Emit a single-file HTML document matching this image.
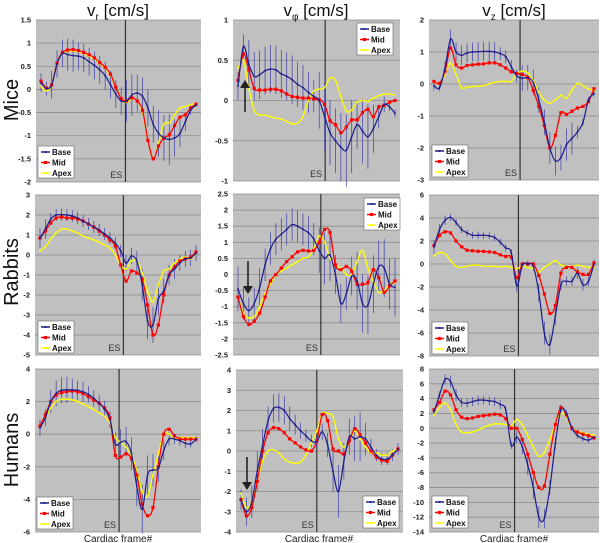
<!DOCTYPE html>
<html><head><meta charset="utf-8"><style>
html,body{margin:0;padding:0;background:#fff;}
svg{display:block;font-family:"Liberation Sans",sans-serif;}
</style></head><body>
<svg id="fig" width="600" height="543" viewBox="0 0 600 543"></svg>
<script>
const NS="http://www.w3.org/2000/svg";
const svg=document.getElementById('fig');
// ---- data (30 cardiac frames) ----
const frames=[0,1,2,3,4,5,6,7,8,9,10,11,12,13,14,15,16,17,18,19,20,21,22,23,24,25,26,27,28,29];
const seriesNames=["Base","Mid","Apex"];
const colTitles=["v","v","v"];
const colSubs=["r","φ","z"];
const rowTitles=["Mice","Rabbits","Humans"];
// Mice vr
const miceVrBase=[0.15,0.02,0.1,0.55,0.78,0.75,0.73,0.72,0.68,0.6,0.52,0.42,0.3,0.1,-0.1,-0.25,-0.25,-0.12,-0.08,-0.15,-0.4,-0.75,-0.95,-1.05,-1.08,-1.05,-0.95,-0.7,-0.45,-0.33];
const miceVrMid=[0.18,0.03,0.1,0.57,0.8,0.85,0.86,0.84,0.8,0.75,0.68,0.58,0.48,0.33,0.05,-0.2,-0.25,-0.18,-0.25,-0.45,-1.1,-1.5,-1.22,-1.05,-0.98,-0.78,-0.6,-0.55,-0.4,-0.32];
const miceVrApex=[0.07,-0.03,0.1,0.58,0.78,0.82,0.83,0.82,0.78,0.72,0.66,0.56,0.46,0.3,0.05,-0.2,-0.28,-0.2,-0.25,-0.5,-1.1,-1.5,-1.15,-0.75,-0.72,-0.55,-0.4,-0.37,-0.33,-0.3];
const miceVrSd=[0.2,0.15,0.3,0.3,0.3,0.35,0.35,0.3,0.3,0.3,0.3,0.3,0.3,0.3,0.3,0.3,0.45,0.45,0.4,0.4,0.4,0.4,0.5,0.5,0.55,0.4,0.3,0.2,0.1,0.05];
// Mice vphi
const miceVpBase=[0.18,0.67,0.45,0.3,0.32,0.37,0.39,0.38,0.33,0.3,0.26,0.2,0.16,0.1,0.05,0.0,-0.2,-0.4,-0.5,-0.58,-0.62,-0.45,-0.3,-0.38,-0.45,-0.35,-0.2,-0.05,-0.08,-0.16];
const miceVpMid=[0.25,0.58,0.38,0.15,0.13,0.13,0.14,0.14,0.12,0.08,0.05,0.04,0.03,0.03,0.02,0.01,-0.05,-0.25,-0.3,-0.4,-0.33,-0.24,-0.24,-0.15,-0.11,-0.2,-0.08,-0.06,-0.02,0.0];
const miceVpApex=[0.4,0.5,0.15,-0.12,-0.18,-0.18,-0.2,-0.22,-0.23,-0.26,-0.29,-0.28,-0.2,0.0,0.12,0.14,0.16,0.28,0.25,0.05,-0.13,-0.12,-0.02,0.0,-0.01,0.03,0.06,0.08,0.08,0.07];
const miceVpSd=[0.17,0.15,0.3,0.3,0.3,0.3,0.3,0.3,0.3,0.3,0.3,0.28,0.28,0.25,0.2,0.35,0.42,0.4,0.4,0.42,0.45,0.45,0.3,0.4,0.4,0.3,0.15,0.1,0.05,0.05];
// Mice vz
const miceVzBase=[-0.05,-0.12,0.5,1.4,1.0,0.9,0.97,1.0,1.01,1.02,1.02,1.0,0.95,0.85,0.55,0.25,0.18,0.2,0.05,-0.5,-1.2,-2.0,-2.4,-2.3,-1.9,-1.7,-1.5,-1.2,-0.5,-0.3];
const miceVzMid=[0.08,0.02,0.4,1.12,0.6,0.5,0.58,0.6,0.62,0.63,0.66,0.66,0.6,0.5,0.38,0.33,0.3,0.2,-0.2,-0.7,-1.3,-2.0,-1.6,-0.9,-0.95,-0.85,-0.75,-0.7,-0.55,-0.15];
const miceVzApex=[0.05,0.0,0.3,0.65,0.3,-0.12,-0.1,-0.08,-0.07,-0.05,0.0,0.05,0.08,0.08,0.08,0.32,0.4,0.35,0.1,-0.25,-0.5,-0.6,-0.5,-0.35,-0.45,-0.2,0.02,-0.05,-0.15,-0.2];
const miceVzSd=[0.15,0.1,0.2,0.3,0.3,0.3,0.3,0.3,0.3,0.3,0.3,0.3,0.2,0.2,0.2,0.2,0.4,0.4,0.4,0.4,0.4,0.5,0.45,0.4,0.5,0.5,0.2,0.1,0.1,0.1];
// Rabbits vr
const rabVrBase=[0.85,1.3,1.8,2.0,2.02,2.0,1.95,1.85,1.7,1.55,1.4,1.25,1.05,0.85,0.6,0.2,-0.4,-0.05,-0.3,-1.5,-3.3,-3.5,-2.2,-1.8,-1.0,-0.7,-0.4,-0.2,-0.15,0.1];
const rabVrMid=[0.85,1.2,1.6,1.85,1.9,1.85,1.85,1.8,1.7,1.55,1.4,1.2,1.0,0.75,0.45,-0.5,-1.3,-0.8,-0.9,-1.2,-2.5,-4.0,-3.5,-2.0,-1.0,-0.6,-0.3,-0.2,-0.1,0.15];
const rabVrApex=[0.2,0.4,0.8,1.1,1.3,1.3,1.2,1.1,0.95,0.85,0.75,0.65,0.5,0.35,0.0,-0.5,-0.7,-0.3,-0.3,-0.9,-1.8,-2.35,-1.5,-0.8,-0.7,-0.4,-0.2,-0.1,-0.2,0.1];
const rabVrSd=[0.5,0.5,0.3,0.3,0.3,0.3,0.3,0.3,0.3,0.3,0.3,0.3,0.3,0.3,0.3,0.3,0.4,0.4,0.5,0.8,0.9,0.9,0.8,0.6,0.5,0.5,0.4,0.4,0.4,0.4];
// Rabbits vphi
const rabVpBase=[-0.45,-0.9,-1.12,-0.9,-0.4,0.3,0.8,1.1,1.25,1.4,1.55,1.5,1.4,1.3,1.1,0.75,0.5,0.6,0.0,-0.9,-0.6,-0.05,-0.2,-0.9,-0.95,-0.3,0.25,0.2,-0.3,-0.4];
const rabVpMid=[-0.7,-1.3,-1.55,-1.45,-1.2,-0.7,-0.2,0.0,0.2,0.4,0.55,0.7,0.75,0.73,0.75,1.0,1.4,1.3,0.3,0.15,0.25,0.1,-0.3,-0.3,-0.25,0.15,-0.1,-0.55,-0.35,-0.2];
const rabVpApex=[-0.7,-1.2,-1.35,-1.3,-1.0,-0.6,-0.3,0.0,0.1,0.2,0.3,0.4,0.5,0.55,0.8,1.2,1.0,0.5,0.3,0.2,0.0,0.0,0.4,0.75,0.2,-0.2,-0.55,-0.5,-0.3,-0.25];
const rabVpSd=[0.7,0.5,0.4,0.5,0.6,0.5,0.5,0.5,0.5,0.5,0.5,0.5,0.5,0.5,0.5,0.7,0.8,0.8,0.6,0.6,0.5,0.6,0.9,0.9,0.9,0.9,0.8,0.9,0.8,0.9];
// Rabbits vz
const rabVzBase=[1.5,3.0,3.8,4.05,3.6,3.0,2.7,2.5,2.5,2.5,2.45,2.3,1.9,1.4,1.0,-1.9,-0.1,0.0,-0.2,-2.5,-6.0,-7.0,-4.5,-1.8,-1.5,-1.5,-0.8,-1.8,-1.5,0.0];
const rabVzMid=[1.6,2.5,2.8,2.7,2.0,1.5,1.2,1.15,1.1,1.1,1.05,1.0,0.8,0.65,0.6,-1.2,0.0,0.0,0.0,-1.0,-2.6,-4.3,-3.6,-0.8,-0.3,-0.3,-0.7,-0.9,-0.9,0.1];
const rabVzApex=[0.7,1.0,0.9,0.3,-0.2,-0.3,-0.2,-0.1,-0.1,-0.2,-0.2,-0.2,-0.25,-0.2,-0.3,-0.4,-0.2,-0.3,-0.4,-0.7,-0.3,0.0,0.3,-0.1,-0.2,-0.2,-0.1,-0.2,-0.3,-0.3];
const rabVzSd=[0.6,0.5,0.4,0.3,0.3,0.3,0.3,0.3,0.3,0.3,0.3,0.3,0.3,0.3,0.3,0.5,0.3,0.3,0.4,0.8,1.0,0.9,0.8,0.5,0.4,0.4,0.5,0.5,0.4,0.4];
// Humans vr
const humVrBase=[0.4,1.0,2.0,2.5,2.7,2.72,2.72,2.7,2.6,2.45,2.2,1.9,1.55,0.9,-0.6,-0.5,-0.45,-1.2,-3.2,-4.6,-2.5,-2.2,-2.1,-1.0,-0.3,-0.3,-0.4,-0.55,-0.6,-0.3];
const humVrMid=[0.5,1.2,2.0,2.4,2.55,2.62,2.65,2.6,2.5,2.3,2.1,1.9,1.6,1.0,-1.3,-1.4,-1.2,-1.5,-2.5,-4.3,-5.0,-4.5,-2.0,0.0,0.3,-0.1,-0.3,-0.3,-0.3,-0.3];
const humVrApex=[0.5,1.0,1.6,2.0,2.15,2.15,2.1,2.0,1.85,1.7,1.5,1.3,1.1,0.7,-0.2,-0.5,-0.8,-1.3,-2.2,-3.5,-3.8,-2.5,-1.2,0.0,0.0,-0.3,-0.2,-0.2,-0.2,-0.2];
const humVrSd=[0.5,0.5,0.7,0.8,0.8,0.8,0.7,0.6,0.6,0.5,0.5,0.5,0.5,0.5,0.7,0.8,0.9,1.0,1.2,1.5,1.2,1.0,0.8,0.6,0.4,0.3,0.3,0.3,0.2,0.2];
// Humans vphi
const humVpBase=[-2.4,-3.0,-2.5,-1.0,0.3,1.5,2.1,2.15,2.0,1.6,1.3,1.0,0.75,0.5,0.45,0.95,0.3,-1.0,-2.0,-0.5,0.7,0.6,0.7,0.6,0.2,-0.2,-0.4,-0.4,-0.2,0.1];
const humVpMid=[-2.4,-3.2,-2.8,-1.5,0.0,0.9,1.15,1.1,0.9,0.6,0.4,0.2,0.05,0.0,0.5,1.8,1.5,0.1,0.0,-0.15,0.5,1.1,0.8,0.4,0.0,-0.3,-0.45,-0.5,-0.2,0.1];
const humVpApex=[-2.1,-2.8,-2.5,-1.5,-0.5,0.0,0.05,-0.1,-0.4,-0.55,-0.6,-0.55,-0.2,0.4,1.0,1.85,1.85,1.7,0.6,0.2,0.5,1.0,0.6,0.2,-0.1,-0.1,-0.2,-0.2,0.0,0.1];
const humVpSd=[0.5,0.7,0.8,1.0,0.8,0.7,0.7,0.7,0.7,0.6,0.5,0.4,0.3,0.3,0.3,0.4,0.6,1.0,1.3,0.9,0.9,1.1,1.2,0.8,0.4,0.3,0.3,0.3,0.3,0.3];
// Humans vz
const humVzBase=[2.2,4.5,6.6,6.3,4.5,3.5,3.4,3.6,3.8,3.8,3.7,3.6,3.2,2.5,-2.3,-1.2,-2.5,-5.0,-8.0,-12.0,-12.2,-8.0,-2.0,2.5,2.0,0.0,-1.0,-1.4,-1.6,-1.2];
const humVzMid=[2.5,3.5,5.0,4.5,2.5,1.5,1.3,1.4,1.6,1.7,1.8,1.9,1.8,1.3,0.0,0.0,-1.5,-3.5,-6.0,-8.0,-7.8,-3.5,0.5,2.8,1.8,0.0,-0.5,-0.8,-1.0,-1.3];
const humVzApex=[1.8,2.8,3.4,2.5,0.5,-0.5,-0.6,-0.5,-0.2,0.1,0.4,0.6,0.6,0.5,0.3,1.2,0.5,-1.0,-2.5,-3.8,-3.3,-1.5,0.5,2.0,1.5,0.0,-0.4,-0.6,-0.8,-0.9];
const humVzSd=[0.3,0.5,0.7,0.8,0.8,0.6,0.6,0.6,0.6,0.6,0.6,0.6,0.6,0.5,0.5,0.8,1.0,1.3,1.5,1.5,1.3,1.0,0.8,0.7,0.5,0.4,0.4,0.4,0.4,0.4];
// y tick values per panel
const ticksMiceVr=[1.5,1,0.5,0,-0.5,-1,-1.5,-2];
const ticksMiceVp=[1,0.5,0,-0.5,-1];
const ticksMiceVz=[2,1,0,-1,-2,-3];
const ticksRabVr=[3,2,1,0,-1,-2,-3,-4,-5];
const ticksRabVp=[2.5,2,1.5,1,0.5,0,-0.5,-1,-1.5,-2,-2.5];
const ticksRabVz=[6,4,2,0,-2,-4,-6,-8];
const ticksHumVr=[4,2,0,-2,-4,-6];
const ticksHumVp=[4,3,2,1,0,-1,-2,-3,-4];
const ticksHumVz=[8,6,4,2,0,-2,-4,-6,-8,-10,-12,-14];
// end-systole frame per panel
const esFrames=[15.8,16.1,15.6,15.5,15.3,15.3,14.7,14.0,14.6];

const panels=[
 {id:"mice-vr",x0:36,x1:201,y0:20,y1:182,b:miceVrBase,m:miceVrMid,a:miceVrApex,sd:miceVrSd,t:ticksMiceVr,leg:[38,146],arrow:null},
 {id:"mice-vphi",x0:233,x1:400,y0:20,y1:181,b:miceVpBase,m:miceVpMid,a:miceVpApex,sd:miceVpSd,t:ticksMiceVp,leg:[357,23],arrow:[245,112,80]},
 {id:"mice-vz",x0:429,x1:599,y0:20,y1:180,b:miceVzBase,m:miceVzMid,a:miceVzApex,sd:miceVzSd,t:ticksMiceVz,leg:[432,145],arrow:null},
 {id:"rabbits-vr",x0:35,x1:201,y0:195,y1:355,b:rabVrBase,m:rabVrMid,a:rabVrApex,sd:rabVrSd,t:ticksRabVr,leg:[38,321],arrow:null},
 {id:"rabbits-vphi",x0:233,x1:400,y0:194,y1:355,b:rabVpBase,m:rabVpMid,a:rabVpApex,sd:rabVpSd,t:ticksRabVp,leg:[364,198],arrow:[248,261,294]},
 {id:"rabbits-vz",x0:429,x1:599,y0:195,y1:356,b:rabVzBase,m:rabVzMid,a:rabVzApex,sd:rabVzSd,t:ticksRabVz,leg:[432,322],arrow:null},
 {id:"humans-vr",x0:35,x1:201,y0:369,y1:532,b:humVrBase,m:humVrMid,a:humVrApex,sd:humVrSd,t:ticksHumVr,leg:[37,497],arrow:null},
 {id:"humans-vphi",x0:236,x1:403,y0:370,y1:532,b:humVpBase,m:humVpMid,a:humVpApex,sd:humVpSd,t:ticksHumVp,leg:[363,496],arrow:[247,457,490]},
 {id:"humans-vz",x0:429,x1:599,y0:369,y1:532,b:humVzBase,m:humVzMid,a:humVzApex,sd:humVzSd,t:ticksHumVz,leg:[432,496],arrow:null}
];
const colors={Base:"#1c1c8c",Mid:"#ff0000",Apex:"#ffff00"};

function el(tag,attrs,parent){const e=document.createElementNS(NS,tag);for(const k in attrs)e.setAttribute(k,attrs[k]);(parent||svg).appendChild(e);return e;}
function smooth(pts){
  let d="M"+pts[0][0].toFixed(1)+","+pts[0][1].toFixed(1);
  for(let i=0;i<pts.length-1;i++){
    const p0=pts[i-1]||pts[i],p1=pts[i],p2=pts[i+1],p3=pts[i+2]||p2;
    const c1=[p1[0]+(p2[0]-p0[0])/6,p1[1]+(p2[1]-p0[1])/6];
    const c2=[p2[0]-(p3[0]-p1[0])/6,p2[1]-(p3[1]-p1[1])/6];
    d+="C"+c1[0].toFixed(1)+","+c1[1].toFixed(1)+" "+c2[0].toFixed(1)+","+c2[1].toFixed(1)+" "+p2[0].toFixed(1)+","+p2[1].toFixed(1);
  }
  return d;
}

panels.forEach((p,pi)=>{
  const g=el('g',{});
  
  
  const ymax=p.t[0],ymin=p.t[p.t.length-1];
  const yS=v=>p.y0+(ymax-v)/(ymax-ymin)*(p.y1-p.y0);
  const xS=f=>p.x0+5+f*(p.x1-p.x0-10)/(frames.length-1);
  const bg=el('rect',{x:p.x0,y:p.y0,width:p.x1-p.x0,height:p.y1-p.y0,fill:"#c0c0c0"},g);
  
  
  p.t.forEach(v=>{
    const y=yS(v);
    const gl=el('line',{x1:p.x0,x2:p.x1,y1:y,y2:y,stroke:"#8c8c8c","stroke-width":0.8},g);
    
    
    const tl=el('text',{x:p.x0-5,y:y+2.5,"text-anchor":"end","font-size":7.5,"font-weight":"bold",fill:"#222"},g);
    
    
    tl.textContent=String(v);
  });
  // ES line
  const ex=xS(esFrames[pi]);
  const es=el('line',{x1:ex,x2:ex,y1:p.y0,y2:p.y1,stroke:"#333","stroke-width":1.2},g);
  
  
  const est=el('text',{x:ex-3,y:p.y1-4,"text-anchor":"end","font-size":9,fill:"#333"},g);
  
  
  est.textContent="ES";
  // error bars
  frames.forEach((f,i)=>{
    const eb=el('line',{x1:xS(f),x2:xS(f),y1:yS(p.b[i]+p.sd[i]),y2:yS(p.b[i]-p.sd[i]),stroke:"#3c3ca8","stroke-width":0.7},g);
    
    
  });
  // series
  [["Apex",p.a],["Mid",p.m],["Base",p.b]].forEach(([nm,vals])=>{
    const pts=frames.map((f,i)=>[xS(f),yS(vals[i])]);
    const path=el('path',{d:smooth(pts),fill:"none",stroke:colors[nm],"stroke-width":nm==="Base"?1.2:1.3},g);
    
    
    pts.forEach(pt=>{
      const s=nm==="Mid"?3.2:1.6;
      const mk=el('rect',{x:pt[0]-s/2,y:pt[1]-s/2,width:s,height:s,fill:colors[nm]},g);
      
      
    });
  });
  // legend
  const lg=el('g',{},g);
  
  
  const lr=el('rect',{x:p.leg[0],y:p.leg[1],width:36,height:32,fill:"#fff",stroke:"#666","stroke-width":0.6},lg);
  
  
  seriesNames.forEach((nm,k)=>{
    const yy=p.leg[1]+6+k*10.5;
    const ll=el('line',{x1:p.leg[0]+3,x2:p.leg[0]+12,y1:yy,y2:yy,stroke:colors[nm],"stroke-width":1.5},lg);
    
    
    const s=nm==="Mid"?3.2:1.8;
    el('rect',{x:p.leg[0]+7.5-s/2,y:yy-s/2,width:s,height:s,fill:colors[nm]},lg);
    const lt=el('text',{x:p.leg[0]+14,y:yy+3,"font-size":8,"font-weight":"bold",fill:"#111"},lg);
    
    
    lt.textContent=nm;
  });
  if(p.arrow){
    const [ax,ya,yb]=p.arrow;
    const up=yb<ya;
    const ar=el('g',{},g);
    
    
    el('line',{x1:ax,x2:ax,y1:ya,y2:up?yb+6:yb-6,stroke:"#222","stroke-width":1.6},ar);
    el('polygon',{points:up?`${ax-5},${yb+8} ${ax+5},${yb+8} ${ax},${yb}`:`${ax-5},${yb-8} ${ax+5},${yb-8} ${ax},${yb}`,fill:"#222"},ar);
  }
});
// column titles
const colX=[118,316,514];
colX.forEach((x,i)=>{
  const t=el('text',{x:x,y:16,"text-anchor":"middle","font-size":17,fill:"#111"});
  
  
  const a=el('tspan',{},t);a.textContent=colTitles[i];
  const b=el('tspan',{"font-size":10,dy:4},t);b.textContent=colSubs[i];
  const c=el('tspan',{dy:-4},t);c.textContent=" [cm/s]";
});
const rowY=[100,272,450];
rowY.forEach((y,i)=>{
  const t=el('text',{x:0,y:0,"text-anchor":"middle","font-size":20,fill:"#111",transform:`translate(18,${y}) rotate(-90)`});
  
  
  t.textContent=rowTitles[i];
});
[118,319,514].forEach(x=>{
  const t=el('text',{x:x,y:542,"text-anchor":"middle","font-size":10,fill:"#222"});
  
  
  t.textContent="Cardiac frame#";
});
</script>
</body></html>
